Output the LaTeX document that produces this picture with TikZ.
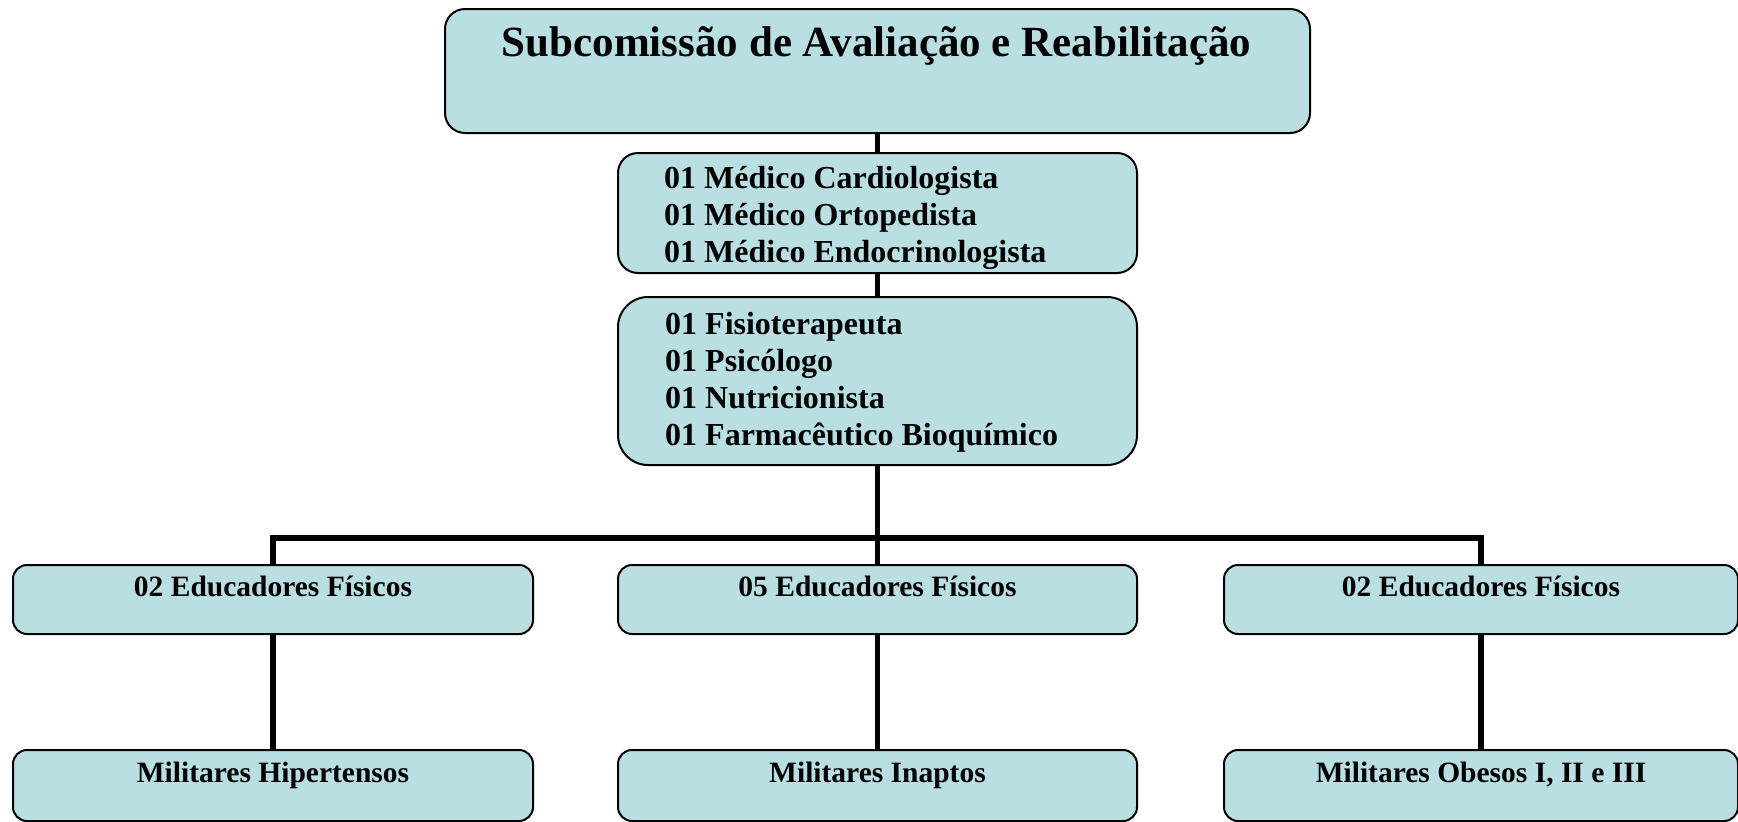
\documentclass[tikz,border=0pt]{standalone}
\usepackage{fontspec}
\setmainfont{Liberation Serif}
\definecolor{boxfill}{RGB}{185,223,227}
\begin{document}
\begin{tikzpicture}[x=1pt,y=-1pt,
  box/.style={draw=black, line width=2pt, fill=boxfill, inner sep=0pt, anchor=north west},
  conn/.style={draw=black, line width=5.5pt},
  ttl/.style={anchor=base, inner sep=0pt, font=\fontsize{43}{48}\selectfont\bfseries},
  lst/.style={anchor=base west, inner sep=0pt, font=\fontsize{32}{37}\selectfont\bfseries},
  lbl/.style={anchor=base, inner sep=0pt, font=\fontsize{29.5}{34}\selectfont\bfseries}]
\useasboundingbox (0,0) rectangle (1738,822);
% boxes
\node[box, rounded corners=20pt, minimum width=865pt, minimum height=124pt] (top) at (444,8) {};
\node[box, rounded corners=20pt, minimum width=519pt, minimum height=120pt] (med) at (617,152) {};
\node[box, rounded corners=30pt, minimum width=519pt, minimum height=168pt] (fis) at (617,296) {};
\node[box, rounded corners=14pt, minimum width=520pt, minimum height=69pt] (l1) at (12,564) {};
\node[box, rounded corners=14pt, minimum width=519pt, minimum height=69pt] (m1) at (617,564) {};
\node[box, rounded corners=14pt, minimum width=514pt, minimum height=69pt] (r1) at (1223,564) {};
\node[box, rounded corners=14pt, minimum width=520pt, minimum height=71pt] (l2) at (12,749) {};
\node[box, rounded corners=14pt, minimum width=519pt, minimum height=71pt] (m2) at (617,749) {};
\node[box, rounded corners=14pt, minimum width=514pt, minimum height=71pt] (r2) at (1223,749) {};
% connectors
\coordinate (bus) at (876.5,538);
\draw[conn] (top.south) -- (med.north);
\draw[conn] (med.south) -- (fis.north);
\draw[conn] (fis.south) -- (m1.north);
\draw[conn, line join=miter] (l1.north) |- (bus) -| (r1.north);
\draw[conn] (l1.south) -- (l2.north);
\draw[conn] (m1.south) -- (m2.north);
\draw[conn] (r1.south) -- (r2.north);
% texts
\node[ttl] (ttext) at (876.5,56) {Subcomissão de Avaliação e Reabilitação};
\node[lst] (med1) at (664,188) {01 Médico Cardiologista};
\node[lst] (med2) at (664,225) {01 Médico Ortopedista};
\node[lst] (med3) at (664,262) {01 Médico Endocrinologista};
\node[lst] (fis1) at (665,334) {01 Fisioterapeuta};
\node[lst] (fis2) at (665,371) {01 Psicólogo};
\node[lst] (fis3) at (665,408) {01 Nutricionista};
\node[lst] (fis4) at (665,445) {01 Farmacêutico Bioquímico};
\node[lbl] (l1t) at (l1.north |- 0,596) {02 Educadores Físicos};
\node[lbl] (m1t) at (m1.north |- 0,596) {05 Educadores Físicos};
\node[lbl] (r1t) at (r1.north |- 0,596) {02 Educadores Físicos};
\node[lbl] (l2t) at (l2.north |- 0,782) {Militares Hipertensos};
\node[lbl] (m2t) at (m2.north |- 0,782) {Militares Inaptos};
\node[lbl] (r2t) at (r2.north |- 0,782) {Militares Obesos I, II e III};
\end{tikzpicture}
\end{document}
